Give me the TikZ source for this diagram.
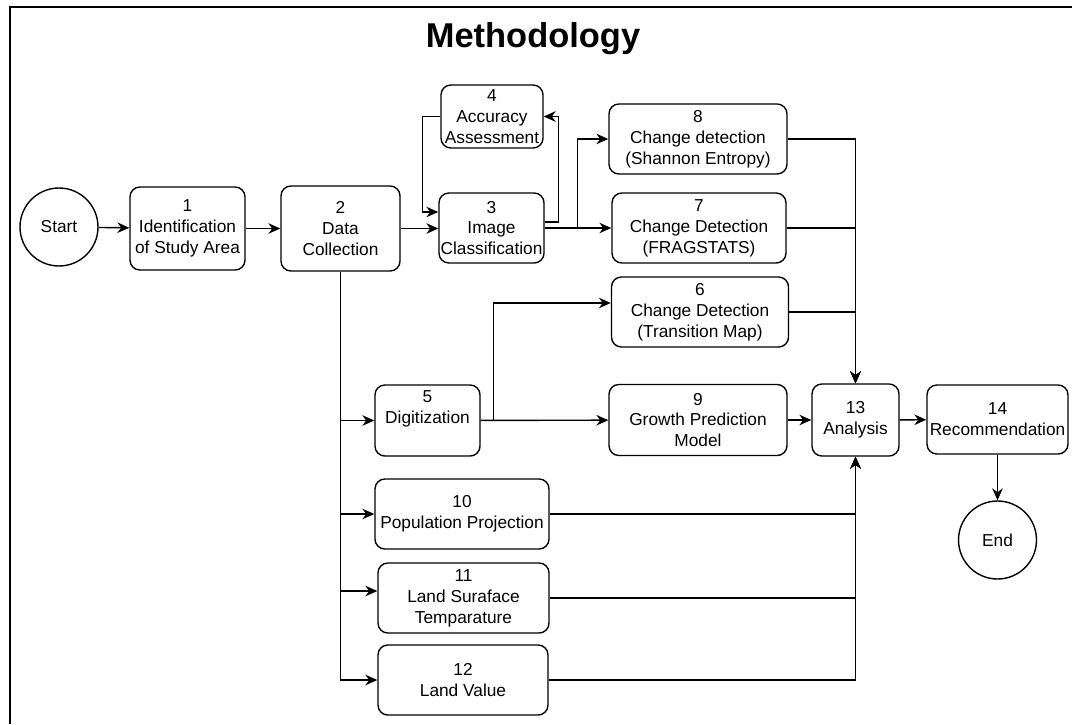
\documentclass[tikz,border=0pt]{standalone}
\usepackage{fontspec}
\setmainfont{Liberation Sans}
\usetikzlibrary{arrows.meta, positioning, calc}

\begin{document}
\begin{tikzpicture}[
    >={Stealth[length=8.5pt,width=7.5pt]},
    stepbox/.style={rectangle, rounded corners=7pt, draw, line width=1pt, minimum height=1.75cm, align=center, inner sep=1pt, font=\fontsize{12.3}{14.9}\selectfont},
    termnode/.style={circle, draw, line width=1pt, minimum size=1.95cm, inner sep=0pt, font=\fontsize{12.3}{14.9}\selectfont},
    link/.style={->, line width=1pt}
]
\useasboundingbox (0,0) rectangle (26.8,-18.1);
\draw[line width=1.4pt] (0.25,-18.1) -- (0.25,-0.175) -- (26.8,-0.175);
\node[anchor=base, font=\fontsize{24.5}{28}\selectfont\bfseries] (title) at (13.325,-1.175) {Methodology};

% main row
\node[termnode] (start) at (1.475,-5.675) {Start};
\node[stepbox, minimum width=2.875cm, minimum height=2.075cm] (b1) at (4.6875,-5.7125) {1\\Identification\\of Study Area};
\node[stepbox, minimum width=2.975cm, minimum height=2.125cm] (b2) at (8.5125,-5.7125) {2\\Data\\Collection};
\node[stepbox, minimum width=2.625cm] (b3) at (12.2875,-5.7) {3\\Image\\Classification};
\node[stepbox, minimum width=2.55cm, minimum height=1.575cm] (b4) at (12.3,-2.9125) {4\\Accuracy\\Assessment};

% change detection
\node[stepbox, minimum width=4.45cm] (b8) at (17.45,-3.475) {8\\Change detection\\(Shannon Entropy)};
\node[stepbox, minimum width=4.35cm] (b7) at (17.475,-5.7) {7\\Change Detection\\(FRAGSTATS)};
\node[stepbox, minimum width=4.425cm] (b6) at (17.5,-7.8) {6\\Change Detection\\(Transition Map)};

% lower branch
\node[stepbox, minimum width=2.625cm, minimum height=1.775cm] (b5) at (10.6875,-10.5125) {5\\Digitization\\\strut};
\node[stepbox, minimum width=4.45cm, minimum height=1.775cm] (b9) at (17.45,-10.5) {9\\Growth Prediction\\Model};
\node[stepbox, minimum width=4.35cm] (b10) at (11.55,-12.85) {10\\Population Projection};
\node[stepbox, minimum width=4.275cm] (b11) at (11.5875,-14.95) {11\\Land Suraface\\Temparature};
\node[stepbox, minimum width=4.25cm] (b12) at (11.575,-17.0) {12\\Land Value};

% end
\node[stepbox, minimum width=2.175cm, minimum height=1.8cm] (b13) at (21.3875,-10.5) {13\\Analysis};
\node[stepbox, minimum width=3.525cm, minimum height=1.725cm] (b14) at (24.9375,-10.4875) {14\\Recommendation};
\node[termnode] (end) at (24.9375,-13.5) {End};

\coordinate (j1) at ([xshift=0.825cm]b3.east);
\coordinate (j2) at ([xshift=0.3125cm]b5.east);

\draw[link] (start) -- (b1);
\draw[link] (b1) -- (b2);
\draw[link] (b2.east) -- (b2.east -| b3.west);
\draw[link] (b4.west) -- ++(-0.45,0) |- ([yshift=0.4cm]b3.west);
\draw[link] ([yshift=0.15cm]b3.east) -- ++(0.35,0) |- (b4.east);
\draw[link] (b3.east) -- (b7.west);
\draw[link] (j1) |- (b8.west);

\draw[link] (b2.south) |- (b12.west);
\draw[link] (b2.south |- b5.west) -- (b5.west);
\draw[link] (b2.south |- b10.west) -- (b10.west);
\draw[link] (b2.south |- b11.west) ++(0,0.175) -- ([yshift=0.175cm]b11.west);

\draw[link] (b5) -- (b9);
\draw[link] (j2) |- ([yshift=0.225cm]b6.west);

\draw[link] (b8.east) -| (b13.north);
\draw[link] (b7.east) -| (b13.north);
\draw[link] (b6.east) -| (b13.north);
\draw[link] (b10.east) -| (b13.south);
\draw[link] (b11.east) -| (b13.south);
\draw[link] (b12.east) -| (b13.south);

\draw[link] (b9) -- (b13);
\draw[link] (b13) -- (b14);
\draw[link] (b14) -- (end);
\end{tikzpicture}
\end{document}
